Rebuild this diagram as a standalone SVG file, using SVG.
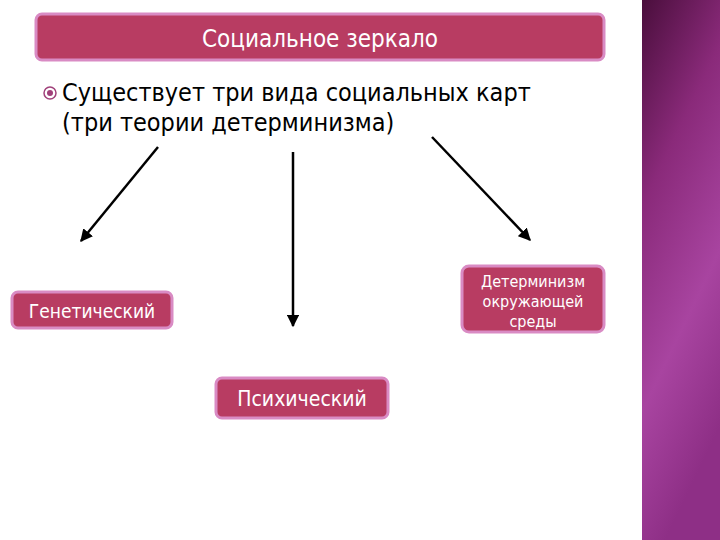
<svg xmlns="http://www.w3.org/2000/svg" width="720" height="540" viewBox="0 0 720 540">
<defs>
<linearGradient id="side" x1="0" y1="0" x2="0.3" y2="1">
<stop offset="0" stop-color="#4a0e3c"/><stop offset="0.35" stop-color="#8a2a7a"/><stop offset="0.7" stop-color="#a844a0"/><stop offset="1" stop-color="#8e2f86"/>
</linearGradient>
<marker id="ah" viewBox="0 0 10 10" refX="9" refY="5" markerWidth="5" markerHeight="5" orient="auto"><path d="M0,0 L10,5 L0,10 Z" fill="#000"/></marker>
<style>
.box{fill:#b83c62;stroke:#d98bc4;stroke-width:3}
.t{font-family:"DejaVu Sans Condensed","DejaVu Sans",sans-serif;font-stretch:condensed;fill:#fff;text-anchor:middle}
.b{font-family:"DejaVu Sans Condensed","DejaVu Sans",sans-serif;font-stretch:condensed;fill:#000;font-size:25px}
.c{stroke:#000;stroke-width:2.5;fill:none;marker-end:url(#ah)}
</style>
</defs>
<rect width="720" height="540" fill="#fff"/>
<rect x="642" y="0" width="78" height="540" fill="url(#side)"/>
<g id="title"><rect class="box" x="36" y="14" width="568" height="46" rx="6"/><text class="t" x="320" y="47" font-size="24">Социальное зеркало</text></g>
<g id="bullet">
<circle cx="50" cy="93" r="6" fill="none" stroke="#a0407a" stroke-width="1.5"/><circle cx="50" cy="93" r="3" fill="#a0407a"/>
<text class="b" x="62" y="101">Существует три вида социальных карт</text>
<text class="b" x="62" y="131">(три теории детерминизма)</text>
</g>
<g id="connectors">
<line class="c" x1="158" y1="147" x2="81" y2="241"/>
<line class="c" x1="293" y1="152" x2="293" y2="326"/>
<line class="c" x1="432" y1="137" x2="530" y2="240"/>
</g>
<g id="genetic"><rect class="box" x="12" y="292" width="160" height="36" rx="6"/><text class="t" x="92" y="318" font-size="19">Генетический</text></g>
<g id="env"><rect class="box" x="462" y="266" width="142" height="66" rx="7"/>
<text class="t" x="533" y="287" font-size="16">Детерминизм</text><text class="t" x="533" y="307" font-size="16">окружающей</text><text class="t" x="533" y="327" font-size="16">среды</text></g>
<g id="psych"><rect class="box" x="216" y="378" width="172" height="40" rx="6"/><text class="t" x="302" y="406" font-size="21">Психический</text></g>
</svg>
